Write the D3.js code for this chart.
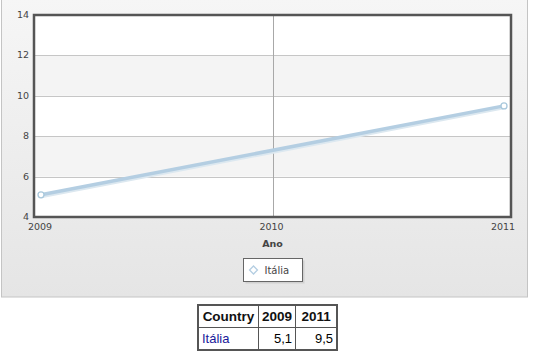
<!DOCTYPE html>
<html>
<head>
<meta charset="utf-8">
<script src="https://cdn.jsdelivr.net/npm/d3@7"></script>
<style>
  body { margin: 0; background: #fff; }
  #chart { position: absolute; left: 0; top: 0; }
  table.data {
    position: absolute; left: 197px; top: 304px;
    border-collapse: collapse; border: 2px solid #555;
    font-family: "Liberation Sans", Arial, sans-serif; font-size: 13px;
  }
  table.data th, table.data td { border: 1px solid #555; padding: 2px 3px; height: 17px; }
  table.data th { font-weight: bold; color: #111; font-size: 13.5px; }
  table.data td { text-align: right; }
  table.data td.name { text-align: left; color: #1a1a9a; }
</style>
</head>
<body>
<div id="chart"></div>
<table class="data" id="tbl"></table>
<script>
// data
const seriesName = "Itália";
const years = [2009, 2011];
const values = [5.1, 9.5];
const xTicks = [2009, 2010, 2011];
const yTicks = [4, 6, 8, 10, 12, 14];
const xTitle = "Ano";

const W = 536, H = 300;
const plot = {left: 34, right: 511, top: 15, bottom: 217};

const svg = d3.select("#chart").append("svg")
    .attr("width", W)
    .attr("height", H);

// panel background
const defs = svg.append("defs");
const grad = defs.append("linearGradient")
    .attr("id", "panelGrad")
    .attr("x1", "0%").attr("x2", "0%").attr("y1", "0%").attr("y2", "100%");
grad.append("stop").attr("offset", "0%").attr("stop-color", "#f6f6f6");
grad.append("stop").attr("offset", "100%").attr("stop-color", "#e5e5e5");

svg.append("rect")
    .attr("x", 1.5).attr("y", -2)
    .attr("width", 526).attr("height", 299)
    .attr("fill", "url(#panelGrad)")
    .attr("stroke", "#c4c4c4");

// scales
const x = d3.scaleLinear()
    .domain([2009, 2011])
    .range([plot.left + 7, plot.right - 7]);

const y = d3.scaleLinear()
    .domain([4, 14])
    .range([plot.bottom, plot.top]);

// plot background + bands
svg.append("rect")
    .attr("x", plot.left).attr("y", plot.top)
    .attr("width", plot.right - plot.left).attr("height", plot.bottom - plot.top)
    .attr("fill", "#fff");

const bands = [[6, 8], [10, 12]];
svg.selectAll(".band")
    .data(bands)
    .enter().append("rect")
    .attr("class", "band")
    .attr("x", plot.left)
    .attr("width", plot.right - plot.left)
    .attr("y", d => y(d[1]))
    .attr("height", d => y(d[0]) - y(d[1]))
    .attr("fill", "#f4f4f4");

// gridlines
svg.selectAll(".hgrid")
    .data(yTicks.slice(1, -1))
    .enter().append("line")
    .attr("x1", plot.left).attr("x2", plot.right)
    .attr("y1", d => Math.round(y(d)) + 0.5)
    .attr("y2", d => Math.round(y(d)) + 0.5)
    .attr("stroke", "#c6c6c6");

svg.selectAll(".vgrid")
    .data(xTicks.slice(1, -1))
    .enter().append("line")
    .attr("x1", d => Math.round(x(d)) + 0.5)
    .attr("x2", d => Math.round(x(d)) + 0.5)
    .attr("y1", plot.top).attr("y2", plot.bottom)
    .attr("stroke", "#a8a8a8");

// frame
svg.append("rect")
    .attr("x", plot.left).attr("y", plot.top)
    .attr("width", plot.right - plot.left).attr("height", plot.bottom - plot.top)
    .attr("fill", "none")
    .attr("stroke", "#555")
    .attr("stroke-width", 2.5);

// axes labels
const font = "DejaVu Sans, Verdana, sans-serif";
svg.selectAll(".ylab")
    .data(yTicks)
    .enter().append("text")
    .attr("x", 29)
    .attr("y", d => y(d) + 3)
    .attr("text-anchor", "end")
    .style("font-family", font)
    .style("font-size", "9.5px")
    .attr("fill", "#444")
    .text(d => d);

svg.selectAll(".xlab")
    .data(xTicks)
    .enter().append("text")
    .attr("x", d => x(d) - 1)
    .attr("y", 230)
    .attr("text-anchor", "middle")
    .style("font-family", font)
    .style("font-size", "9.5px")
    .attr("fill", "#444")
    .text(d => d);

svg.append("text")
    .attr("x", x(2010))
    .attr("y", 247)
    .attr("text-anchor", "middle")
    .style("font-family", font)
    .style("font-size", "9.5px")
    .style("font-weight", "bold")
    .attr("fill", "#444")
    .text(xTitle);

// series
const pts = years.map((yr, i) => ({year: yr, value: values[i]}));
const line = d3.line().x(d => x(d.year)).y(d => y(d.value));

svg.append("path")
    .datum(pts)
    .attr("d", line)
    .attr("transform", "translate(0,1.5)")
    .attr("fill", "none")
    .attr("stroke", "#dce8f0")
    .attr("stroke-width", 4);

svg.append("path")
    .datum(pts)
    .attr("d", line)
    .attr("fill", "none")
    .attr("stroke", "#b4cee2")
    .attr("stroke-width", 3.5);

svg.selectAll(".dot")
    .data(pts)
    .enter().append("circle")
    .attr("cx", d => x(d.year))
    .attr("cy", d => y(d.value))
    .attr("r", 3)
    .attr("fill", "#fff")
    .attr("stroke", "#a9c8dc")
    .attr("stroke-width", 1.3);

// legend
const lg = svg.append("g").attr("transform", "translate(243.5,258.5)");
lg.append("rect")
    .attr("x", 2).attr("y", 2)
    .attr("width", 59).attr("height", 23)
    .attr("fill", "#d0d0d0");
lg.append("rect")
    .attr("width", 59).attr("height", 23)
    .attr("fill", "#fff")
    .attr("stroke", "#666");
lg.append("path")
    .attr("d", d3.symbol(d3.symbolDiamond2, 40)())
    .attr("transform", "translate(10,11.5)")
    .attr("fill", "#fff")
    .attr("stroke", "#b4cee2")
    .attr("stroke-width", 1.3);
lg.append("text")
    .attr("x", 21).attr("y", 15)
    .style("font-family", font)
    .style("font-size", "10px")
    .attr("fill", "#444")
    .text(seriesName);

// table
const colWidths = [53, 28, 34];
const fmt = v => String(v).replace(".", ",");
const tbl = d3.select("#tbl");
const head = tbl.append("tr");
head.append("th").style("width", colWidths[0] + "px").text("Country");
years.forEach((yr, i) => head.append("th").style("width", colWidths[i + 1] + "px").text(yr));
const row = tbl.append("tr");
row.append("td").attr("class", "name").text(seriesName);
values.forEach(v => row.append("td").text(fmt(v)));
</script>
</body>
</html>
